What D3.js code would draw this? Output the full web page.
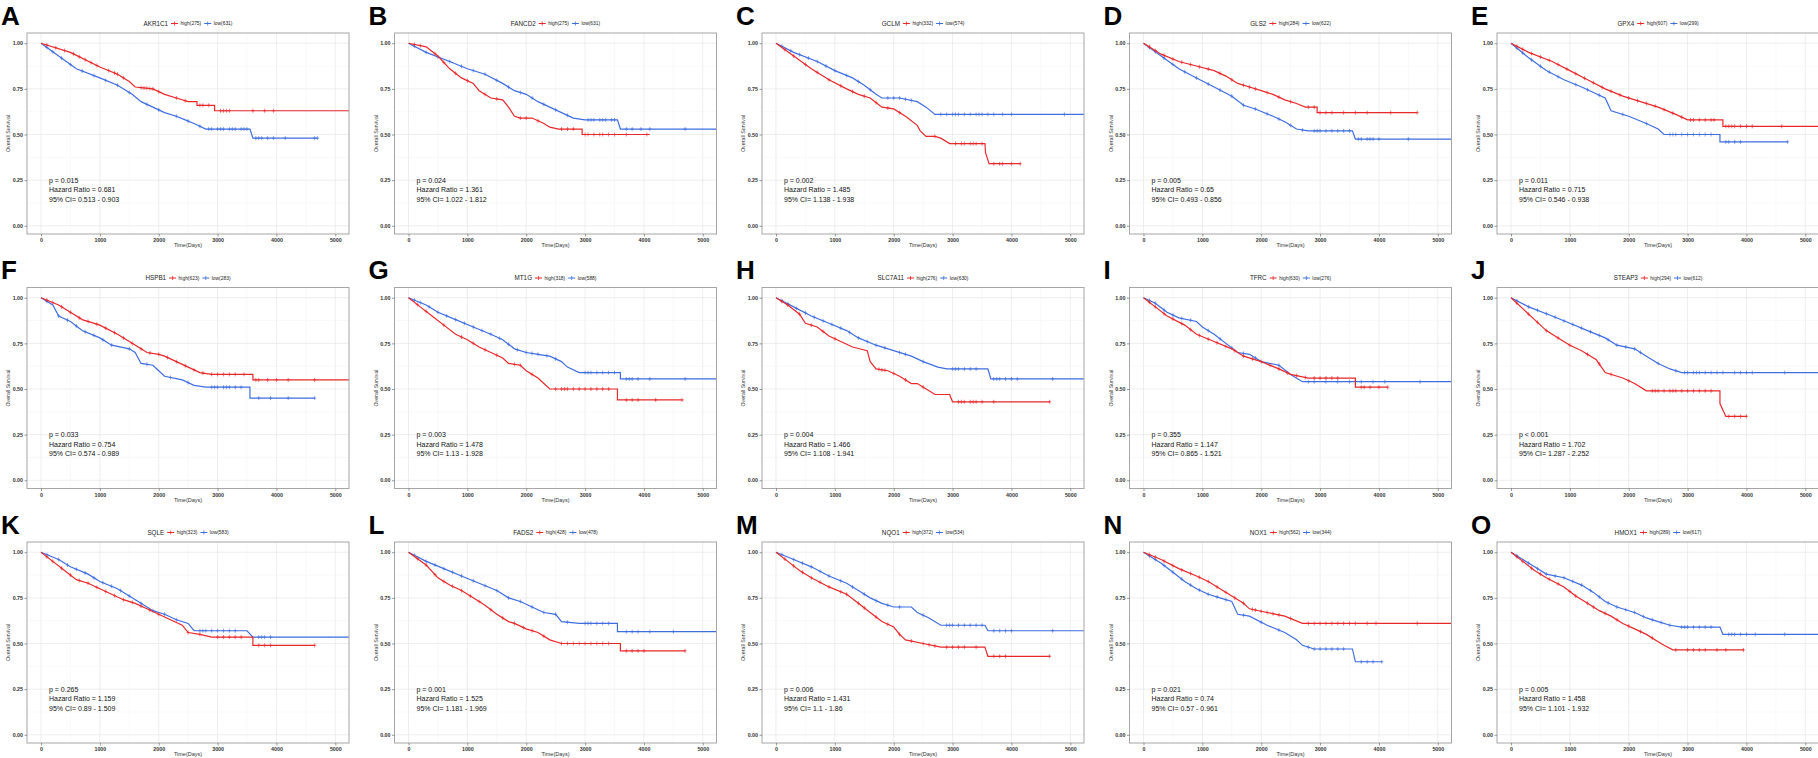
<!DOCTYPE html>
<html><head><meta charset="utf-8">
<script src="https://cdn.jsdelivr.net/npm/d3@7"></script>
<style>
html,body{margin:0;padding:0;background:#fff;}
svg{display:block;font-family:"Liberation Sans",Arial,sans-serif;}
</style></head>
<body><svg id="c" width="1818" height="758"></svg>
<script>
const letters=["A","B","C","D","E","F","G","H","I","J","K","L","M","N","O"];
const genes=["AKR1C1","FANCD2","GCLM","GLS2","GPX4","HSPB1","MT1G","SLC7A11","TFRC","STEAP3","SQLE","FADS2","NQO1","NOX1","HMOX1"];
const highN=[275,275,332,284,607,623,318,276,630,294,323,428,372,562,289];
const lowN=[631,631,574,622,299,283,588,630,276,612,583,478,534,344,617];
const pText=["p = 0.015","p = 0.024","p = 0.002","p = 0.005","p = 0.011","p = 0.033","p = 0.003","p = 0.004","p = 0.355","p < 0.001","p = 0.265","p = 0.001","p = 0.006","p = 0.021","p = 0.005"];
const hrVals=["0.681","1.361","1.485","0.65","0.715","0.754","1.478","1.466","1.147","1.702","1.159","1.525","1.431","0.74","1.458"];
const ciVals=["0.513 - 0.903","1.022 - 1.812","1.138 - 1.938","0.493 - 0.856","0.546 - 0.938","0.574 - 0.989","1.13 - 1.928","1.108 - 1.941","0.865 - 1.521","1.287 - 2.252","0.89 - 1.509","1.181 - 1.969","1.1 - 1.86","0.57 - 0.961","1.101 - 1.932"];
const xTicks=[0,1000,2000,3000,4000,5000];
const yTicks=[0,0.25,0.5,0.75,1];

const highCurves=[
 [[0,1],[500,0.95],[1000,0.87],[1300,0.83],[1500,0.79],[1600,0.76],[1900,0.75],[2100,0.72],[2300,0.70],[2500,0.68],[2650,0.68],[2650,0.66],[2950,0.66],[2950,0.63],[5500,0.63]],
 [[0,1],[300,0.98],[500,0.93],[700,0.86],[900,0.81],[1100,0.78],[1200,0.74],[1400,0.70],[1600,0.69],[1700,0.65],[1800,0.60],[1900,0.59],[2100,0.59],[2300,0.56],[2400,0.54],[2550,0.53],[2950,0.53],[2950,0.50],[4100,0.50]],
 [[0,1],[300,0.93],[600,0.86],[900,0.80],[1200,0.75],[1400,0.72],[1600,0.70],[1800,0.65],[2000,0.64],[2200,0.60],[2400,0.55],[2450,0.52],[2550,0.49],[2700,0.49],[2800,0.48],[2950,0.45],[3550,0.45],[3560,0.40],[3620,0.34],[4150,0.34]],
 [[0,1],[300,0.94],[600,0.90],[900,0.875],[1200,0.85],[1400,0.82],[1600,0.78],[1800,0.76],[2000,0.74],[2200,0.72],[2400,0.69],[2600,0.67],[2750,0.65],[2950,0.65],[2950,0.62],[4650,0.62]],
 [[0,1],[300,0.95],[700,0.90],[1000,0.85],[1300,0.80],[1600,0.75],[1900,0.71],[2200,0.68],[2500,0.65],[2800,0.61],[3000,0.58],[3600,0.58],[3600,0.545],[5500,0.545]],
 [[0,1],[300,0.96],[500,0.92],[700,0.88],[1000,0.85],[1300,0.80],[1500,0.76],[1700,0.72],[1800,0.70],[2000,0.69],[2100,0.68],[2300,0.65],[2500,0.62],[2700,0.59],[2900,0.58],[3600,0.58],[3600,0.55],[5500,0.55]],
 [[0,1],[200,0.95],[400,0.90],[600,0.85],[800,0.80],[1000,0.77],[1200,0.73],[1400,0.70],[1600,0.67],[1700,0.64],[1900,0.63],[2000,0.60],[2200,0.56],[2300,0.53],[2400,0.50],[3550,0.50],[3550,0.44],[4650,0.44]],
 [[0,1],[200,0.96],[400,0.91],[500,0.86],[700,0.84],[900,0.79],[1100,0.76],[1300,0.73],[1550,0.71],[1600,0.65],[1700,0.61],[1900,0.60],[2100,0.57],[2300,0.53],[2400,0.53],[2600,0.49],[2700,0.47],[2950,0.47],[3000,0.43],[4650,0.43]],
 [[0,1],[200,0.95],[400,0.90],[700,0.85],[900,0.80],[1200,0.76],[1500,0.72],[1700,0.68],[2000,0.65],[2300,0.61],[2500,0.58],[2800,0.56],[3600,0.56],[3600,0.51],[4150,0.51]],
 [[0,1],[200,0.94],[400,0.88],[600,0.82],[800,0.78],[1000,0.74],[1200,0.71],[1450,0.66],[1600,0.59],[1900,0.56],[2100,0.53],[2300,0.49],[3550,0.49],[3550,0.42],[3650,0.35],[4000,0.35]],
 [[0,1],[200,0.95],[400,0.90],[600,0.85],[800,0.83],[1000,0.80],[1200,0.77],[1400,0.74],[1600,0.72],[1800,0.69],[2000,0.66],[2200,0.63],[2400,0.60],[2500,0.56],[2700,0.55],[2900,0.535],[3600,0.535],[3600,0.49],[4650,0.49]],
 [[0,1],[300,0.93],[500,0.86],[700,0.82],[900,0.79],[1100,0.75],[1300,0.71],[1500,0.66],[1700,0.62],[1800,0.61],[2000,0.58],[2200,0.56],[2400,0.52],[2600,0.50],[3600,0.50],[3600,0.46],[4700,0.46]],
 [[0,1],[200,0.95],[400,0.90],[600,0.86],[900,0.81],[1200,0.77],[1400,0.72],[1600,0.67],[1800,0.62],[2000,0.59],[2100,0.55],[2200,0.52],[2500,0.50],[2800,0.48],[3550,0.48],[3600,0.43],[4650,0.43]],
 [[0,1],[300,0.96],[600,0.91],[900,0.87],[1100,0.84],[1300,0.80],[1500,0.76],[1700,0.72],[1800,0.69],[2100,0.67],[2400,0.65],[2700,0.61],[5500,0.61]],
 [[0,1],[200,0.95],[400,0.90],[600,0.86],[900,0.81],[1100,0.76],[1300,0.72],[1500,0.68],[1700,0.65],[1900,0.61],[2100,0.58],[2300,0.55],[2500,0.51],[2600,0.49],[2750,0.465],[3950,0.465]]
];
const lowCurves=[
 [[0,1],[300,0.93],[600,0.86],[1000,0.81],[1300,0.77],[1550,0.72],[1700,0.68],[1900,0.65],[2100,0.62],[2300,0.60],[2450,0.58],[2600,0.56],[2800,0.53],[3550,0.53],[3600,0.48],[4700,0.48]],
 [[0,1],[300,0.95],[700,0.90],[1000,0.86],[1300,0.83],[1600,0.78],[1800,0.74],[2000,0.72],[2200,0.68],[2400,0.65],[2600,0.62],[2800,0.59],[3000,0.58],[3550,0.58],[3600,0.53],[5500,0.53]],
 [[0,1],[300,0.95],[700,0.90],[1000,0.85],[1300,0.81],[1500,0.77],[1700,0.72],[1800,0.70],[2100,0.70],[2400,0.68],[2550,0.65],[2700,0.61],[5500,0.61]],
 [[0,1],[300,0.93],[600,0.86],[900,0.81],[1200,0.76],[1500,0.71],[1700,0.66],[1900,0.64],[2200,0.60],[2400,0.57],[2600,0.53],[2800,0.52],[3550,0.52],[3600,0.475],[5500,0.475]],
 [[0,1],[300,0.92],[600,0.85],[900,0.80],[1200,0.76],[1400,0.73],[1600,0.70],[1700,0.63],[2000,0.60],[2300,0.56],[2500,0.53],[2600,0.50],[3550,0.50],[3550,0.46],[4700,0.46]],
 [[0,1],[200,0.96],[300,0.90],[500,0.87],[700,0.82],[1000,0.78],[1200,0.74],[1500,0.72],[1600,0.70],[1700,0.64],[1900,0.63],[2000,0.60],[2100,0.57],[2400,0.55],[2600,0.52],[2800,0.51],[3550,0.51],[3550,0.45],[4650,0.45]],
 [[0,1],[300,0.96],[500,0.92],[800,0.88],[1100,0.84],[1400,0.80],[1600,0.77],[1800,0.72],[2000,0.70],[2200,0.69],[2400,0.68],[2600,0.65],[2700,0.62],[2900,0.59],[3600,0.59],[3600,0.555],[5500,0.555]],
 [[0,1],[300,0.95],[600,0.90],[900,0.86],[1200,0.82],[1400,0.78],[1700,0.74],[2000,0.71],[2300,0.68],[2500,0.65],[2750,0.62],[2900,0.61],[3600,0.61],[3650,0.555],[5500,0.555]],
 [[0,1],[200,0.97],[400,0.92],[600,0.89],[900,0.87],[1000,0.84],[1200,0.80],[1400,0.75],[1600,0.70],[1800,0.69],[2000,0.65],[2300,0.63],[2500,0.58],[2700,0.54],[5500,0.54]],
 [[0,1],[300,0.95],[700,0.90],[1000,0.86],[1300,0.82],[1600,0.78],[1800,0.74],[2100,0.72],[2300,0.68],[2500,0.64],[2700,0.61],[2900,0.59],[5500,0.59]],
 [[0,1],[300,0.96],[500,0.92],[800,0.88],[1000,0.84],[1300,0.80],[1500,0.76],[1700,0.72],[1900,0.68],[2100,0.66],[2300,0.63],[2500,0.61],[2600,0.57],[3500,0.57],[3600,0.535],[5500,0.535]],
 [[0,1],[300,0.95],[600,0.91],[900,0.87],[1200,0.83],[1500,0.79],[1700,0.75],[1900,0.73],[2100,0.70],[2300,0.67],[2500,0.66],[2600,0.62],[2900,0.61],[3550,0.61],[3550,0.565],[5500,0.565]],
 [[0,1],[300,0.96],[600,0.92],[900,0.87],[1200,0.83],[1400,0.79],[1600,0.75],[1800,0.72],[2000,0.70],[2300,0.70],[2400,0.67],[2600,0.64],[2800,0.60],[3550,0.60],[3600,0.57],[5500,0.57]],
 [[0,1],[300,0.94],[500,0.89],[700,0.84],[900,0.80],[1100,0.77],[1300,0.75],[1500,0.73],[1600,0.66],[1800,0.65],[2100,0.60],[2400,0.56],[2600,0.52],[2700,0.49],[2900,0.47],[3550,0.47],[3600,0.40],[4050,0.40]],
 [[0,1],[200,0.96],[400,0.92],[600,0.88],[900,0.86],[1200,0.82],[1400,0.78],[1600,0.73],[1800,0.70],[2100,0.67],[2300,0.64],[2500,0.62],[2700,0.60],[2900,0.59],[3550,0.59],[3600,0.55],[5500,0.55]]
];
const highCensor=[
 [100,250,400,550,650,750,850,950,1150,1250,1300,1400,1700,1750,1800,1850,1900,2000,2300,2450,2700,2750,2850,3050,3100,3150,3200,3600,3800,3950],
 [100,200,450,600,800,1000,1300,1500,1900,2000,2200,2600,2700,2800,3000,3050,3150,3250,3300,3400,3500,3700,4050],
 [150,300,500,700,900,1100,1300,1500,1700,1900,2100,2700,3050,3150,3200,3300,3350,3400,3500,3700,3800,3850,4000,4150],
 [100,200,350,500,650,800,950,1100,1300,1500,1700,1800,1900,2100,2300,2500,2800,2900,3000,3100,3200,3400,3600,3800,4200,4650],
 [100,200,350,500,650,800,950,1100,1250,1400,1550,1700,1850,2000,2150,2300,2450,2600,2750,2900,3050,3100,3200,3300,3400,3450,3650,3700,3750,3800,3900,4000,4100,4600],
 [100,200,350,500,650,800,950,1100,1250,1400,1550,1700,1850,2000,2150,2300,2450,2600,2750,2900,3000,3100,3200,3300,3450,3650,3700,3850,4000,4200,4650],
 [150,300,600,900,1100,1300,1500,1800,1900,2100,2500,2600,2650,2700,2800,2900,3000,3100,3200,3300,3400,3700,3800,3900,4200,4650],
 [100,200,400,600,800,1000,1750,1800,1850,2000,2200,2500,3100,3150,3200,3300,3350,3400,3500,3700,4650],
 [100,200,350,500,650,800,950,1100,1250,1400,1550,1700,1850,2000,2150,2300,2450,2600,2750,2900,3000,3100,3200,3300,3700,3750,3850,4000,4150],
 [100,300,450,600,800,1000,1300,1500,1700,2000,2400,2450,2500,2600,2700,2750,2800,2900,3000,3100,3200,3300,3400,3700,3800,3900,4000],
 [100,200,350,500,650,800,950,1100,1250,1400,1550,1700,1850,2000,2500,2700,3000,3100,3200,3300,3400,3700,3800,3900,4650],
 [150,300,450,600,750,900,1050,1200,1400,1600,1800,1950,2100,2300,2600,2700,2800,2900,3000,3100,3200,3300,3400,3700,3800,3900,4000,4700],
 [150,300,450,600,750,900,1100,1200,1400,1500,1700,1900,2100,2300,2500,2600,2700,2900,3000,3100,3200,3400,3700,3800,3900,4650],
 [100,200,350,500,650,800,950,1100,1250,1400,1550,1700,1850,1900,2000,2100,2200,2300,2500,2800,2900,3000,3100,3200,3300,3400,3500,3600,3800,3950,4650],
 [100,200,350,500,650,800,1000,1100,1300,1400,1600,1800,2000,2200,2400,2800,3000,3100,3200,3300,3500,3650,3950]
];
const lowCensor=[
 [100,200,350,500,700,900,1100,1300,1500,1800,2000,2300,2500,2700,2850,2900,3000,3050,3100,3200,3250,3300,3400,3450,3500,3650,3700,3750,3850,3950,4150,4650,4700],
 [100,300,500,700,900,1100,1300,1500,1700,1900,2100,2300,2500,2700,3050,3100,3150,3250,3300,3350,3450,3500,3700,3800,3950,4100,4700],
 [100,250,400,550,700,850,1000,1200,1400,1600,1900,2000,2100,2200,2300,2800,2900,3000,3050,3100,3200,3300,3400,3450,3500,3600,3700,3850,4000,4900],
 [100,200,350,500,700,900,1100,1300,1500,1700,1900,2100,2300,2500,2700,2900,2950,3000,3100,3200,3300,3400,3500,3650,3700,3800,3850,3900,4000,4500],
 [100,200,350,500,650,800,1100,1300,1500,1900,2300,2700,2750,2800,2900,3000,3100,3200,3300,3400,3650,3700,3800,3900,4700],
 [100,300,450,600,750,900,1050,1200,1500,1800,2200,2500,2900,2950,3000,3100,3150,3200,3300,3400,3700,3900,4200,4650],
 [100,200,350,500,650,800,950,1100,1250,1400,1550,1700,1850,2000,2100,2200,2350,2500,3000,3050,3100,3200,3300,3400,3500,3700,3750,3800,3900,4100,4700],
 [100,200,350,500,650,800,950,1100,1250,1400,1550,1700,1850,2100,2200,2500,3000,3050,3100,3200,3300,3400,3700,3750,3800,3900,4000,4100,4700],
 [100,200,350,500,650,800,1100,1300,1500,1700,1900,2300,2800,2900,3100,3300,3500,3700,3900,4100,4700],
 [100,300,450,600,750,900,1050,1200,1350,1500,1650,1800,1950,2100,2200,2500,2800,2950,3000,3100,3150,3200,3300,3400,3500,3600,3800,3900,4000,4100,4650],
 [100,300,450,600,750,900,1050,1200,1350,1500,1700,1900,2100,2300,2700,2750,2800,2900,3000,3100,3200,3300,3700,3750,3800,3900],
 [100,300,450,600,750,900,1100,1300,1500,1700,1900,2100,2300,2500,2700,3000,3050,3100,3200,3300,3400,3700,3800,3900,4100,4500],
 [100,300,450,600,750,900,1100,1300,1500,1700,1900,2100,2500,2900,2950,3000,3100,3200,3300,3400,3500,3700,3800,3900,4000,4700],
 [100,200,350,500,650,800,950,1100,1250,1400,1700,2000,2300,2800,2900,3000,3100,3200,3300,3400,3700,3800,3900,4050],
 [100,300,450,600,750,900,1050,1200,1350,1500,1650,1800,1950,2100,2250,2400,2550,2700,2900,2950,3000,3100,3200,3300,3400,3700,3750,3800,3900,4000,4150,4650]
];

const RED="#e8282b", BLUE="#3f6ee0";
const colStep=367.5, rowStep=254.5;
const PL=27, PR=349, PT=33, PB=234;
const svg=d3.select("#c");
const x=d3.scaleLinear().domain([-238,5233]).range([PL,PR]);
const y=d3.scaleLinear().domain([-0.045,1.056]).range([PB,PT]);
const line=d3.line().x(d=>x(d[0])).y(d=>y(d[1]));

function survAt(curve,t){
  for(let i=1;i<curve.length;i++){
    const a=curve[i-1],b=curve[i];
    if(t<=b[0]){ if(b[0]===a[0]) return b[1]; return a[1]+(b[1]-a[1])*(t-a[0])/(b[0]-a[0]); }
  }
  return curve[curve.length-1][1];
}

letters.forEach((L,i)=>{
  const col=i%5,row=Math.floor(i/5);
  const g=svg.append("g").attr("transform",`translate(${col*colStep},${row*rowStep})`);
  g.append("text").attr("x",1).attr("y",24.5).attr("font-size",26).attr("font-weight","bold").attr("fill","#000").text(L);

  g.append("rect").attr("x",PL).attr("y",PT).attr("width",PR-PL).attr("height",PB-PT).attr("fill","#fff");
  const minorX=[500,1500,2500,3500,4500], minorY=[0.125,0.375,0.625,0.875];
  g.selectAll(".mgx").data(minorX).join("line").attr("x1",d=>x(d)).attr("x2",d=>x(d)).attr("y1",PT).attr("y2",PB).attr("stroke","#f3f3f3").attr("stroke-width",0.5);
  g.selectAll(".mgy").data(minorY).join("line").attr("y1",d=>y(d)).attr("y2",d=>y(d)).attr("x1",PL).attr("x2",PR).attr("stroke","#f3f3f3").attr("stroke-width",0.5);
  g.selectAll(".gx").data(xTicks).join("line").attr("x1",d=>x(d)).attr("x2",d=>x(d)).attr("y1",PT).attr("y2",PB).attr("stroke","#e6e6e6").attr("stroke-width",0.7);
  g.selectAll(".gy").data(yTicks).join("line").attr("y1",d=>y(d)).attr("y2",d=>y(d)).attr("x1",PL).attr("x2",PR).attr("stroke","#e6e6e6").attr("stroke-width",0.7);

  const cid="clip"+i;
  g.append("clipPath").attr("id",cid).append("rect").attr("x",PL).attr("y",PT).attr("width",PR-PL).attr("height",PB-PT);
  const cg=g.append("g").attr("clip-path",`url(#${cid})`);
  [[lowCurves[i],lowCensor[i],BLUE],[highCurves[i],highCensor[i],RED]].forEach(([cv,cen,colr])=>{
    cg.append("path").attr("d",line(cv)).attr("fill","none").attr("stroke",colr).attr("stroke-width",1.2);
    const marks=cg.append("g").attr("stroke",colr).attr("stroke-width",0.7).attr("stroke-opacity",0.9);
    cen.forEach(t=>{
      const px=x(t),py=y(survAt(cv,t));
      marks.append("line").attr("x1",px-1.6).attr("x2",px+1.6).attr("y1",py).attr("y2",py);
      marks.append("line").attr("x1",px).attr("x2",px).attr("y1",py-2).attr("y2",py+2);
    });
  });
  g.append("rect").attr("x",PL).attr("y",PT).attr("width",PR-PL).attr("height",PB-PT).attr("fill","none").attr("stroke","#a6a6a6").attr("stroke-width",1);

  const ax=g.append("g").attr("transform",`translate(0,${PB})`).call(d3.axisBottom(x).tickValues(xTicks).tickFormat(d3.format("d")).tickSize(2.5).tickSizeOuter(0).tickPadding(2));
  const ay=g.append("g").attr("transform",`translate(${PL},0)`).call(d3.axisLeft(y).tickValues(yTicks).tickFormat(d3.format(".2f")).tickSize(2.5).tickSizeOuter(0).tickPadding(1.5));
  [ax,ay].forEach(a=>{
    a.select(".domain").remove();
    a.selectAll("line").attr("stroke","#555").attr("stroke-width",0.6);
    a.selectAll("text").attr("font-size",5.3).attr("font-weight","bold").attr("fill","#333").attr("font-family","Liberation Sans, Arial, sans-serif");
  });
  g.append("text").attr("x",(PL+PR)/2).attr("y",247).attr("text-anchor","middle").attr("font-size",5.5).attr("fill","#333").text("Time(Days)");
  g.append("text").attr("transform",`translate(10,${(PT+PB)/2}) rotate(-90)`).attr("text-anchor","middle").attr("font-size",5.3).attr("fill","#333").text("Overall Survival");

  const ann=[pText[i],"Hazard Ratio = "+hrVals[i],"95% CI= "+ciVals[i]];
  ann.forEach((t,k)=>g.append("text").attr("x",49).attr("y",182.5+k*9.6).attr("font-size",7).attr("fill","#111").text(t));

  const lg=g.append("g");
  let cx=0;
  const t1=lg.append("text").attr("x",cx).attr("y",25.5).attr("font-size",6.3).attr("fill","#222").text(genes[i]);
  cx+=t1.node().getComputedTextLength()+3;
  [[RED,"high("+highN[i]+")"],[BLUE,"low("+lowN[i]+")"]].forEach(([colr,lab])=>{
    lg.append("line").attr("x1",cx).attr("x2",cx+7).attr("y1",23.5).attr("y2",23.5).attr("stroke",colr).attr("stroke-width",1);
    lg.append("line").attr("x1",cx+3.5).attr("x2",cx+3.5).attr("y1",21.5).attr("y2",25.5).attr("stroke",colr).attr("stroke-width",0.8);
    cx+=9.5;
    const tt=lg.append("text").attr("x",cx).attr("y",25.3).attr("font-size",4.9).attr("fill","#222").text(lab);
    cx+=tt.node().getComputedTextLength()+3;
  });
  lg.attr("transform",`translate(${(PL+PR)/2-(cx-3)/2},0)`);
});
</script></body></html>
